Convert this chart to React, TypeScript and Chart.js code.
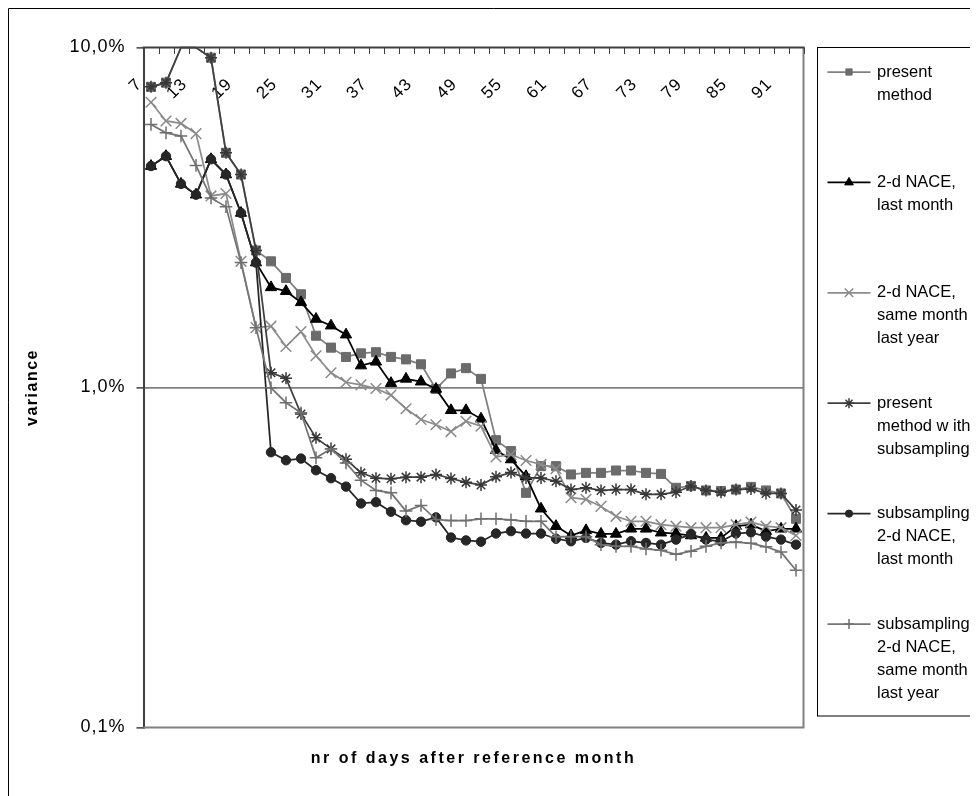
import React, { useEffect, useRef } from "react";
import { Chart, registerables } from "chart.js";
import { drawPoint } from "chart.js/helpers";

Chart.register(...registerables);

// ---------- data ----------
const days = [
  "7", "9", "11", "13", "15", "17", "19", "21", "23", "25", "27",
  "29", "31", "33", "35", "37", "39", "41", "43", "45", "47", "49",
  "51", "53", "55", "57", "59", "61", "63", "65", "67", "69", "71",
  "73", "75", "77", "79", "81", "83", "85", "87", "89", "91", "93",
];
const xTickLabels = ["7", "13", "19", "25", "31", "37", "43", "49", "55", "61", "67", "73", "79", "85", "91"];
const yTickValues = [0.1, 1, 10];
const yTickLabels = ["0,1%", "1,0%", "10,0%"];

const presentMethod = [
  7.66, 7.88, 10, 10, 9.33, 4.9, 4.23, 2.53, 2.35, 2.1,
  1.88, 1.42, 1.31, 1.23, 1.26, 1.27, 1.23, 1.21, 1.17, 0.99,
  1.1, 1.14, 1.06, 0.7, 0.65, 0.49, 0.587, 0.587, 0.555, 0.561,
  0.561, 0.57, 0.57, 0.561, 0.557, 0.507, 0.513, 0.498, 0.496, 0.501,
  0.51, 0.498, 0.488, 0.411,
];
const nace2LastMonth = [
  4.48, 4.79, 3.97, 3.69, 4.69, 4.23, 3.26, 2.33, 1.97, 1.92,
  1.78, 1.59, 1.52, 1.43, 1.16, 1.19, 1.03, 1.06, 1.04, 0.99,
  0.857, 0.857, 0.809, 0.654, 0.614, 0.548, 0.44, 0.391, 0.367, 0.38,
  0.371, 0.371, 0.384, 0.384, 0.374, 0.372, 0.367, 0.361, 0.361, 0.391,
  0.395, 0.378, 0.384, 0.384,
];
const nace2SameMonthLastYear = [
  6.9, 6.08, 5.98, 5.58, 3.66, 3.72, 2.35, 1.5, 1.515, 1.32,
  1.46, 1.24, 1.105, 1.036, 1.018, 0.993, 0.95, 0.866, 0.805, 0.777,
  0.742, 0.796, 0.769, 0.625, 0.635, 0.61, 0.594, 0.577, 0.474, 0.469,
  0.447, 0.418, 0.404, 0.404, 0.395, 0.391, 0.387, 0.387, 0.387, 0.395,
  0.402, 0.391, 0.387, 0.367,
];
const presentWithSubsampling = [
  7.66, 7.88, 10, 10, 9.33, 4.9, 4.23, 2.53, 1.105, 1.065,
  0.836, 0.711, 0.66, 0.615, 0.561, 0.541, 0.539, 0.545, 0.545, 0.555,
  0.54, 0.526, 0.517, 0.546, 0.562, 0.542, 0.542, 0.53, 0.501, 0.507,
  0.498, 0.501, 0.501, 0.485, 0.485, 0.492, 0.513, 0.498, 0.492, 0.501,
  0.503, 0.488, 0.488, 0.436,
];
const subsamplingLastMonth = [
  4.48, 4.79, 3.97, 3.69, 4.69, 4.23, 3.26, 2.33, 0.645, 0.611,
  0.618, 0.571, 0.541, 0.511, 0.456, 0.46, 0.431, 0.407, 0.403, 0.415,
  0.362, 0.355, 0.352, 0.372, 0.378, 0.372, 0.372, 0.359, 0.353, 0.361,
  0.349, 0.345, 0.353, 0.349, 0.345, 0.357, 0.37, 0.357, 0.353, 0.372,
  0.375, 0.364, 0.357, 0.345,
];
const subsamplingSameMonthLastYear = [
  5.94, 5.61, 5.49, 4.5, 3.61, 3.4, 2.33, 1.5, 0.998, 0.902,
  0.843, 0.621, 0.66, 0.6, 0.534, 0.498, 0.49, 0.433, 0.45, 0.409,
  0.406, 0.406, 0.411, 0.411, 0.408, 0.404, 0.404, 0.364, 0.364, 0.364,
  0.345, 0.341, 0.341, 0.335, 0.332, 0.323, 0.33, 0.341, 0.349, 0.351,
  0.348, 0.34, 0.328, 0.29,
];

const seriesLabels = [
  ["present", "method"],
  ["2-d NACE,", "last month"],
  ["2-d NACE,", "same month", "last year"],
  ["present", "method w ith", "subsampling"],
  ["subsampling,", "2-d NACE,", "last month"],
  ["subsampling,", "2-d NACE,", "same month", "last year"],
];
const seriesData = [
  presentMethod,
  nace2LastMonth,
  nace2SameMonthLastYear,
  presentWithSubsampling,
  subsamplingLastMonth,
  subsamplingSameMonthLastYear,
];

const xTitle = "nr of days after reference month";
const yTitle = "variance";

// ---------- styles ----------
const W = 970;
const H = 788;
const FONT = '"Liberation Sans", Arial, sans-serif';
const yMax = 10;

const seriesStyles = [
  { line: "#808080", point: "#6b6b6b", style: "rect", r: 6.4, lr: 4.4, bw: 1 },
  { line: "#000000", point: "#000000", style: "triangle", r: 6.5, lr: 5, bw: 1 },
  { line: "#8c8c8c", point: "#8a8a8a", style: "crossRot", r: 7.5, lr: 6, bw: 1.5 },
  { line: "#404040", point: "#383838", style: "star", r: 6, lr: 5, bw: 1.5 },
  { line: "#262626", point: "#262626", style: "circle", r: 4.7, lr: 3.6, bw: 1 },
  { line: "#757575", point: "#6e6e6e", style: "cross", r: 6.3, lr: 5, bw: 1.5 },
];

const decorPlugin = {
  id: "decor",
  beforeDraw(chart: any) {
    chart.ctx.letterSpacing = "1px";
  },
  beforeDatasetsDraw(chart: any) {
    const { ctx, chartArea: a } = chart;
    const xs = chart.scales.x;
    ctx.save();
    // plot area right & bottom border
    ctx.strokeStyle = "#808080";
    ctx.lineWidth = 2;
    ctx.beginPath();
    ctx.moveTo(a.left, a.bottom);
    ctx.lineTo(a.right, a.bottom);
    ctx.lineTo(a.right, a.top);
    ctx.stroke();
    // top category axis
    ctx.strokeStyle = "#404040";
    ctx.lineWidth = 2;
    ctx.beginPath();
    ctx.moveTo(a.left - 1, a.top);
    ctx.lineTo(a.right + 1, a.top);
    ctx.stroke();
    // tick marks at category boundaries
    const step = xs.getPixelForValue(1) - xs.getPixelForValue(0);
    ctx.lineWidth = 1;
    for (let i = 0; i <= days.length; i++) {
      const px = Math.round(xs.getPixelForValue(0) - step / 2 + i * step) + 0.5;
      ctx.beginPath();
      ctx.moveTo(px, a.top);
      ctx.lineTo(px, a.top + 6.5);
      ctx.stroke();
    }
    // rotated category labels (inside, under the top axis)
    ctx.fillStyle = "#000";
    ctx.font = `17px ${FONT}`;
    ctx.letterSpacing = "1px";
    ctx.textAlign = "right";
    ctx.textBaseline = "middle";
    days.forEach((d, i) => {
      if (!xTickLabels.includes(d)) return;
      const px = xs.getPixelForValue(i);
      ctx.save();
      ctx.translate(px - 11.5, a.top + 34);
      ctx.rotate(-Math.PI / 4);
      ctx.fillText(d, 0, 0);
      ctx.restore();
    });
    ctx.restore();
  },
  afterDraw(chart: any) {
    const { ctx, chartArea: a } = chart;
    ctx.save();
    // axis titles
    ctx.fillStyle = "#000";
    ctx.font = `bold 16px ${FONT}`;
    ctx.letterSpacing = "2.5px";
    ctx.textAlign = "center";
    ctx.textBaseline = "middle";
    ctx.fillText(xTitle, (a.left + a.right) / 2, a.bottom + 31.5);
    ctx.save();
    ctx.letterSpacing = "1.5px";
    ctx.translate(25, (a.top + a.bottom) / 2);
    ctx.rotate(-Math.PI / 2);
    ctx.fillText(yTitle, 0, 0);
    ctx.restore();

    // legend: entries in equal-height slots
    const box = { left: a.right + 14, top: a.top, bottom: 708 };
    ctx.strokeStyle = "#000";
    ctx.lineWidth = 1;
    ctx.strokeRect(box.left, box.top, W - box.left + 10, box.bottom - box.top);
    const lineH = 23;
    const n = seriesLabels.length;
    const first = box.top + 24.5;
    const lastFirst = box.bottom - 23 - (seriesLabels[n - 1].length - 1) * lineH;
    const slot = (lastFirst - first) / (n - 1);
    const lx0 = box.left + 10;
    const lx1 = box.left + 53;
    const mx = box.left + 31.5;
    const tx = box.left + 59.5;
    seriesLabels.forEach((lines, k) => {
      const y = first + k * slot;
      const st = seriesStyles[k];
      ctx.strokeStyle = st.line;
      ctx.lineWidth = 1.75;
      ctx.beginPath();
      ctx.moveTo(lx0, y);
      ctx.lineTo(lx1, y);
      ctx.stroke();
      ctx.fillStyle = st.point;
      ctx.strokeStyle = st.point;
      ctx.lineWidth = st.bw;
      drawPoint(ctx, { pointStyle: st.style, rotation: 0, radius: st.lr, borderWidth: st.bw }, mx, y);
      ctx.fillStyle = "#000";
      ctx.font = `16.5px ${FONT}`;
      ctx.letterSpacing = "0px";
      ctx.textAlign = "left";
      ctx.textBaseline = "middle";
      lines.forEach((t, j) => ctx.fillText(t, tx, y + j * lineH));
    });

    // outer chart border
    ctx.strokeStyle = "#000";
    ctx.lineWidth = 1;
    ctx.beginPath();
    ctx.moveTo(0.5, H + 2);
    ctx.lineTo(0.5, 0.5);
    ctx.lineTo(W + 2, 0.5);
    ctx.stroke();
    ctx.restore();
  },
};

export default function App() {
  const ref = useRef<HTMLCanvasElement>(null);

  useEffect(() => {
    const canvas = ref.current;
    if (!canvas) return;
    const chart = new Chart(canvas, {
      type: "line",
      data: {
        labels: days,
        datasets: seriesData.map((data, k) => ({
          label: seriesLabels[k].join(" "),
          data,
          borderColor: seriesStyles[k].line,
          backgroundColor: seriesStyles[k].point,
          borderWidth: 1.75,
          pointStyle: seriesStyles[k].style as any,
          pointRadius: (c: any) => (c.raw >= yMax ? 0 : seriesStyles[k].r),
          pointHoverRadius: (c: any) => (c.raw >= yMax ? 0 : seriesStyles[k].r),
          pointBackgroundColor: seriesStyles[k].point,
          pointBorderColor: seriesStyles[k].point,
          pointBorderWidth: seriesStyles[k].bw,
          tension: 0,
          fill: false,
          clip: 4,
          order: -k,
        })),
      },
      options: {
        responsive: false,
        animation: false,
        devicePixelRatio: 1,
        layout: { padding: { left: 0, top: 39.5, right: 174.5, bottom: 68.5 } },
        plugins: {
          legend: { display: false },
          title: { display: false },
          tooltip: { enabled: false },
        },
        events: [],
        scales: {
          x: {
            type: "category",
            offset: true,
            display: false,
          },
          y: {
            type: "logarithmic",
            position: "left",
            min: 0.1,
            max: yMax,
            afterBuildTicks: (s: any) => {
              s.ticks = yTickValues.map((v) => ({ value: v }));
            },
            afterFit: (s: any) => {
              s.width = 135.5;
            },
            ticks: {
              autoSkip: false,
              padding: 11,
              color: "#000",
              font: { family: FONT, size: 18 },
              callback: (v: any) => {
                const idx = yTickValues.findIndex((t) => Math.abs(t - Number(v)) < 1e-9);
                return idx >= 0 ? yTickLabels[idx] : "";
              },
            },
            grid: {
              color: (c: any) => (c.tick && Math.abs(c.tick.value - 1) < 1e-9 ? "#808080" : "rgba(0,0,0,0)"),
              lineWidth: 1.75,
              drawTicks: true,
              tickLength: 7,
              tickColor: "#404040",
              tickWidth: 1.5,
            },
            border: { display: true, color: "#404040", width: 2 },
          },
        },
      } as any,
      plugins: [decorPlugin],
    });
    return () => chart.destroy();
  }, []);

  return (
    <canvas
      ref={ref}
      width={W}
      height={H}
      style={{ display: "block", width: W + "px", height: H + "px" }}
    />
  );
}
